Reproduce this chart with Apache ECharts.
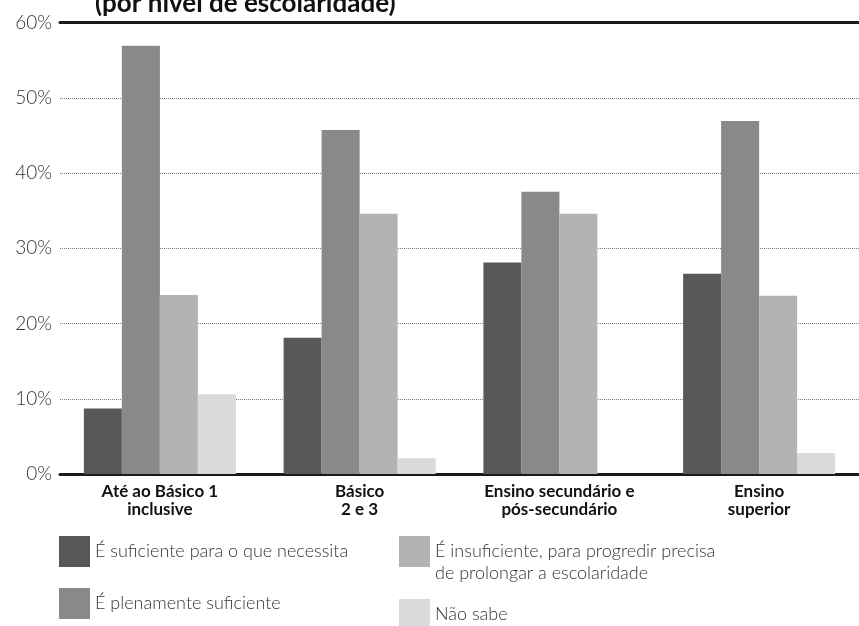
<!DOCTYPE html>
<html>
<head>
<meta charset="utf-8">
<script src="https://cdn.jsdelivr.net/npm/echarts@6/dist/echarts.min.js"></script>
<style>
  html, body { margin: 0; padding: 0; background: #fff; }
  #chart { width: 859px; height: 626px; }
</style>
</head>
<body>
<div id="chart"></div>
<script>
const title = '(por nível de escolaridade)';
const categories = ['Até ao Básico 1\ninclusive', 'Básico\n2 e 3', 'Ensino secundário e\npós-secundário', 'Ensino\nsuperior'];
const seriesNames = [
  'É suficiente para o que necessita',
  'É plenamente suficiente',
  'É insuficiente, para progredir precisa de prolongar a escolaridade',
  'Não sabe'
];
// first empty line keeps the two text lines aligned from the top of the box
const legendLabels = [
  'É suficiente para o que necessita',
  'É plenamente suficiente',
  '\nÉ insuficiente, para progredir precisa\nde prolongar a escolaridade',
  'Não sabe'
];
const suficiente = [8.7, 18.1, 28.1, 26.6];
const plenamente = [56.9, 45.7, 37.5, 46.9];
const insuficiente = [23.8, 34.6, 34.6, 23.7];
const naoSabe = [10.6, 2.1, null, 2.8];
const yTicks = [0, 10, 20, 30, 40, 50, 60];

const colors = ['#58585a', '#88898b', '#b2b3b5', '#d9dadc'];
const values = [suficiente, plenamente, insuficiente, naoSabe];

const chart = echarts.init(document.getElementById('chart'), null, { renderer: 'canvas' });

const legendText = {
  fontFamily: 'Lato',
  fontWeight: 300,
  fontSize: 18,
  color: '#333'
};
const fmt = name => legendLabels[seriesNames.indexOf(name)];

const option = {
  animation: false,
  title: {
    text: title,
    left: 95,
    top: -9,
    padding: 0,
    textStyle: { fontFamily: 'Lato', fontWeight: 'bold', fontSize: 26, color: '#111' }
  },
  grid: { left: 60, right: 0, top: 22.5, bottom: 152 },
  legend: [
    {
      data: seriesNames.slice(0, 2),
      orient: 'vertical',
      left: 59, top: 536, padding: 0,
      itemWidth: 31, itemHeight: 31, itemGap: 21,
      icon: 'rect', formatter: fmt, textStyle: legendText
    },
    {
      data: [seriesNames[2]],
      orient: 'vertical',
      left: 399, top: 518.5, padding: 0,
      itemWidth: 31, itemHeight: 31,
      icon: 'rect', formatter: fmt,
      textStyle: Object.assign({}, legendText, { lineHeight: 22 })
    },
    {
      data: [seriesNames[3]],
      orient: 'vertical',
      left: 399, top: 599, padding: 0,
      itemWidth: 31, itemHeight: 31,
      icon: 'rect', formatter: fmt, textStyle: legendText
    }
  ],
  xAxis: [
    {
      type: 'category',
      data: categories,
      axisLine: { show: true, lineStyle: { color: '#1a1a1a', width: 3 } },
      axisTick: { show: false },
      axisLabel: {
        interval: 0,
        margin: 9,
        fontFamily: 'Lato',
        fontWeight: 'bold',
        fontSize: 17,
        lineHeight: 18,
        color: '#111'
      }
    },
    {
      type: 'category',
      position: 'top',
      data: categories,
      axisLine: { show: true, lineStyle: { color: '#1a1a1a', width: 3 } },
      axisTick: { show: false },
      axisLabel: { show: false }
    }
  ],
  yAxis: {
    type: 'value',
    min: yTicks[0],
    max: yTicks[yTicks.length - 1],
    interval: 10,
    axisLine: { show: false },
    axisTick: { show: false },
    axisLabel: {
      formatter: '{value}%',
      margin: 8,
      fontFamily: 'Lato',
      fontWeight: 300,
      fontSize: 19,
      color: '#333'
    },
    splitLine: { lineStyle: { color: '#777', type: 'dotted', width: 1 } }
  },
  series: values.map((v, i) => ({
    name: seriesNames[i],
    type: 'bar',
    data: v,
    barWidth: 38,
    barGap: '0%',
    itemStyle: { color: colors[i] }
  }))
};

chart.setOption(option);
</script>
</body>
</html>
